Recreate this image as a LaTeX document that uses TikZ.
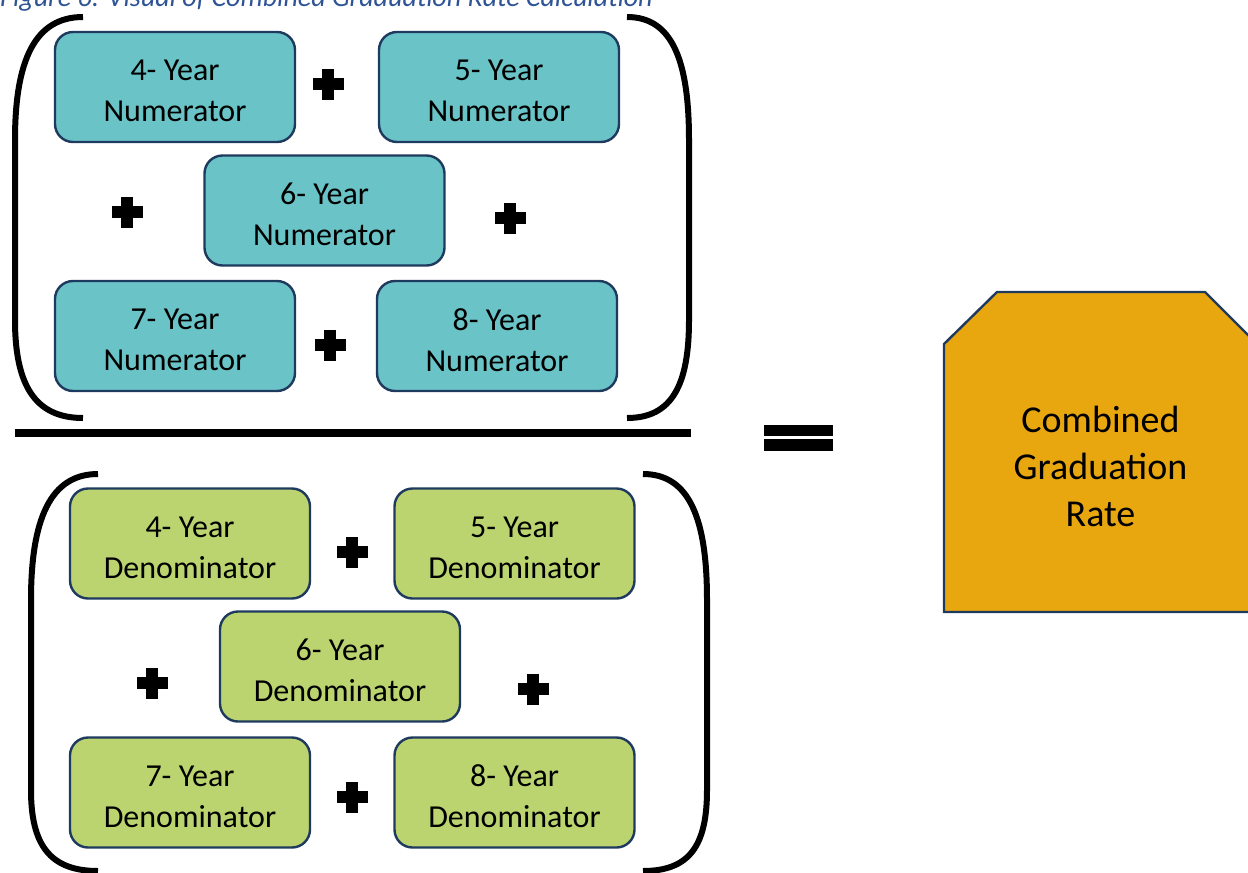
\documentclass[tikz,border=0pt]{standalone}
\usepackage{fontspec}
\setmainfont{Carlito}
\definecolor{tealbox}{HTML}{6AC3C6}
\definecolor{greenbox}{HTML}{BBD46F}
\definecolor{orangebox}{HTML}{E8A70F}
\definecolor{navy}{HTML}{1F3A5F}
\definecolor{capblue}{HTML}{2F5496}
\tikzset{
  yearbox/.style={rectangle, rounded corners=18pt, draw=navy, line width=2.4pt,
    minimum width=240pt, minimum height=110pt, inner sep=0pt},
  boxtext/.style={align=center, inner sep=0pt, yshift=-4pt, font=\fontsize{32}{41}\selectfont},
  numbox/.style={yearbox, fill=tealbox, label={[boxtext]center:#1}},
  denbox/.style={yearbox, fill=greenbox, label={[boxtext]center:#1}},
  bracket/.style={line width=6pt, black},
  plussign/.pic={\fill (-15.5,-6) rectangle (15.5,6); \fill (-6,-15.5) rectangle (6,15.5);}
}
\begin{document}
\begin{tikzpicture}[x=1pt,y=-1pt]
\useasboundingbox (0,0) rectangle (1248,873);
\clip (0,0) rectangle (1248,873);
% caption (cut off at the top edge, as in the original)
\node[anchor=base west, inner sep=0pt, text=capblue, font=\fontsize{28}{32}\selectfont\itshape] (cap) at (0,6) {Figure 6: Visual of Combined Graduation Rate Calculation};
% numerator boxes
\node[numbox={4- Year\\Numerator}] (n4) at (175,87) {};
\node[numbox={5- Year\\Numerator}] (n5) at (499,87) {};
\node[numbox={6- Year\\Numerator}] (n6) at (324.5,210.5) {};
\node[numbox={7- Year\\Numerator}] (n7) at (175,336) {};
\node[numbox={8- Year\\Numerator}] (n8) at (497,336) {};
\pic at (328,84) {plussign};
\pic at (127,212) {plussign};
\pic at (510,218) {plussign};
\pic at (330,345) {plussign};
% denominator boxes
\node[denbox={4- Year\\Denominator}] (d4) at (190,543.5) {};
\node[denbox={5- Year\\Denominator}] (d5) at (514.5,543.5) {};
\node[denbox={6- Year\\Denominator}] (d6) at (340,666.5) {};
\node[denbox={7- Year\\Denominator}] (d7) at (190,792.5) {};
\node[denbox={8- Year\\Denominator}] (d8) at (514.5,792.5) {};
\pic at (352,552) {plussign};
\pic at (152,683) {plussign};
\pic at (533,689) {plussign};
\pic at (352,797) {plussign};
% brackets
\draw[bracket] (83,17) .. controls (35,17) and (15,60) .. (15,140) -- (15,320) .. controls (15,385) and (35,418) .. (83,418);
\draw[bracket] (627,17) .. controls (672,17) and (689,60) .. (689,140) -- (689,320) .. controls (689,385) and (672,418) .. (627,418);
\draw[bracket] (98,474) .. controls (50,474) and (31,520) .. (31,600) -- (31,790) .. controls (31,845) and (50,871) .. (98,871);
\draw[bracket] (643,474) .. controls (690,474) and (707,520) .. (707,600) -- (707,790) .. controls (707,845) and (690,871) .. (643,871);
% fraction bar
\fill (15,429) rectangle (691,437);
% equals sign
\fill (764,424.5) rectangle (833,436);
\fill (764,439) rectangle (833,450.5);
% result shape
\draw[fill=orangebox, draw=navy, line width=2.4pt] (944,344) -- (997,292) -- (1205,292) -- (1257,344) -- (1257,612) -- (944,612) -- cycle;
\node[align=center, inner sep=0pt, font=\fontsize{38}{47}\selectfont] (rate) at (1100.5,466) {Combined\\Graduation\\Rate};
\end{tikzpicture}
\end{document}
